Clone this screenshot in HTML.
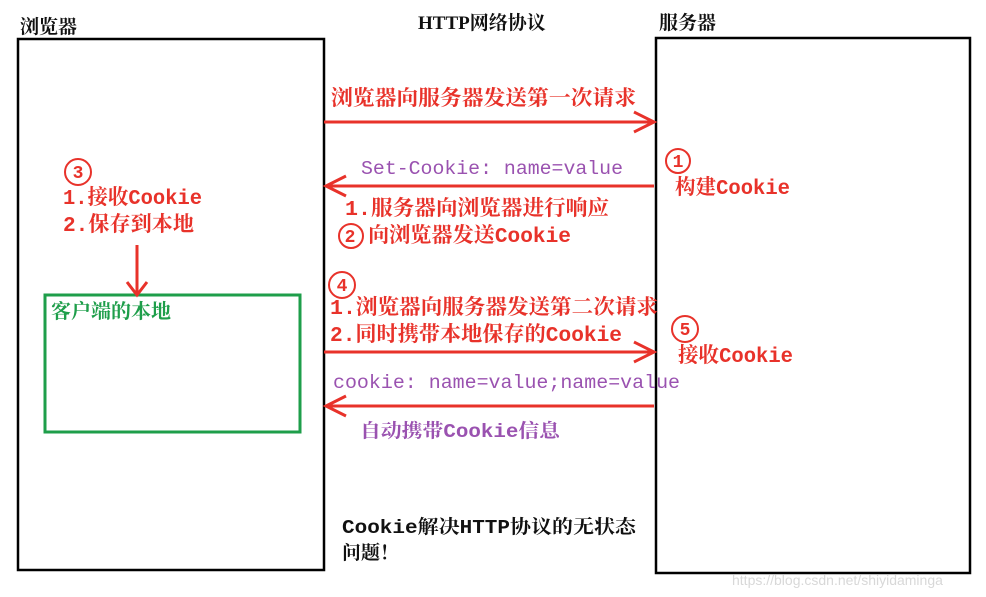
<!DOCTYPE html>
<html><head><meta charset="utf-8"><style>
html,body{margin:0;padding:0;background:#fff;}
svg{display:block;}
text{font-family:"Liberation Mono","Noto Serif CJK SC",monospace;font-weight:bold;}
.r{fill:#e8322a;font-size:21px;}
.p{fill:#9a52b0;font-size:19px;font-weight:normal;}
.k{fill:#111;font-size:19px;}
</style></head><body>
<svg width="986" height="597" viewBox="0 0 986 597" xmlns="http://www.w3.org/2000/svg">
<rect width="986" height="597" fill="#fff"/>
<text x="20" y="33" class="k" style="font-family:'Noto Serif CJK SC',serif">浏览器</text>
<text x="418" y="29" class="k" style="font-family:'Liberation Serif','Noto Serif CJK SC',serif">HTTP网络协议</text>
<text x="659" y="29" class="k" style="font-family:'Noto Serif CJK SC',serif">服务器</text>
<rect x="18" y="39" width="306" height="531" fill="none" stroke="#000" stroke-width="2.5"/>
<rect x="656" y="38" width="314" height="535" fill="none" stroke="#000" stroke-width="2.5"/>
<rect x="45" y="295" width="255" height="137" fill="none" stroke="#1e9e4a" stroke-width="3"/>
<text x="51" y="318" style="fill:#1e9e4a;font-size:20px;font-family:'Noto Serif CJK SC',serif;font-weight:bold">客户端的本地</text>
<g stroke="#e8322a" stroke-width="3" fill="none">
<line x1="324" y1="122" x2="654" y2="122"/>
<polyline points="634,112 654,122 634,132"/>
<line x1="654" y1="186" x2="326" y2="186"/>
<polyline points="346,176 326,186 346,196"/>
<line x1="324" y1="352" x2="654" y2="352"/>
<polyline points="634,342 654,352 634,362"/>
<line x1="654" y1="406" x2="326" y2="406"/>
<polyline points="346,396 326,406 346,416"/>
<line x1="137" y1="245" x2="137" y2="294"/>
<polyline points="127,282 137,295 147,282"/>
<circle cx="678" cy="161" r="12" stroke-width="2"/>
<circle cx="78" cy="172" r="13" stroke-width="2"/>
<circle cx="351" cy="236" r="12" stroke-width="2"/>
<circle cx="342" cy="285" r="13" stroke-width="2"/>
<circle cx="685" cy="329" r="13" stroke-width="2"/>
</g>
<g style="font-size:18px;font-weight:normal;fill:#e8322a;font-family:'Liberation Sans',sans-serif" text-anchor="middle">
<text x="678" y="167">1</text>
<text x="78" y="178">3</text>
<text x="350" y="242">2</text>
<text x="342" y="291">4</text>
<text x="685" y="335">5</text>
</g>
<text x="331" y="105" class="r" textLength="305" lengthAdjust="spacingAndGlyphs">浏览器向服务器发送第一次请求</text>
<text x="361" y="174" class="p" textLength="262" lengthAdjust="spacingAndGlyphs">Set-Cookie: name=value</text>
<text x="345" y="215" class="r" textLength="264" lengthAdjust="spacingAndGlyphs">1.服务器向浏览器进行响应</text>
<text x="368" y="242" class="r" textLength="203" lengthAdjust="spacingAndGlyphs">向浏览器发送Cookie</text>
<text x="675" y="194" class="r" textLength="115" lengthAdjust="spacingAndGlyphs">构建Cookie</text>
<text x="63" y="204" class="r" textLength="139" lengthAdjust="spacingAndGlyphs">1.接收Cookie</text>
<text x="63" y="231" class="r" textLength="131" lengthAdjust="spacingAndGlyphs">2.保存到本地</text>
<text x="330" y="314" class="r" textLength="328" lengthAdjust="spacingAndGlyphs">1.浏览器向服务器发送第二次请求</text>
<text x="330" y="341" class="r" textLength="292" lengthAdjust="spacingAndGlyphs">2.同时携带本地保存的Cookie</text>
<text x="678" y="362" class="r" textLength="115" lengthAdjust="spacingAndGlyphs">接收Cookie</text>
<text x="333" y="388" class="p" textLength="347" lengthAdjust="spacingAndGlyphs">cookie: name=value;name=value</text>
<text x="360" y="437" class="p" style="font-weight:bold" textLength="200" lengthAdjust="spacingAndGlyphs">自动携带Cookie信息</text>
<text x="342" y="533" class="k" textLength="294" lengthAdjust="spacingAndGlyphs">Cookie解决HTTP协议的无状态</text>
<text x="342" y="559" class="k">问题！</text>
<text x="732" y="585" style="fill:#d8d8d8;font-size:14px;font-weight:normal;font-family:'Liberation Sans',sans-serif">https://blog.csdn.net/shiyidaminga</text>
</svg>
</body></html>
